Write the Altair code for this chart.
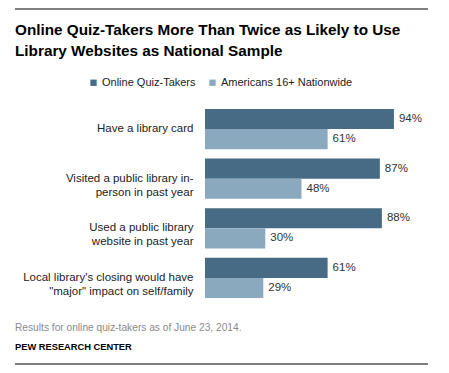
import altair as alt
import pandas as pd

categories = [
    "Have a library card",
    "Visited a public library in-|person in past year",
    "Used a public library|website in past year",
    "Local library's closing would have|\"major\" impact on self/family",
]
series = ["Online Quiz-Takers", "Americans 16+ Nationwide"]
quiz_takers = [94, 87, 88, 61]
nationwide = [61, 48, 30, 29]
colors = ["#476A85", "#8AA9BF"]

title_lines = ["Online Quiz-Takers More Than Twice as Likely to Use",
               "Library Websites as National Sample"]
note = "Results for online quiz-takers as of June 23, 2014."
source = "PEW RESEARCH CENTER"

rows = []
for c, a, b in zip(categories, quiz_takers, nationwide):
    rows.append({"cat": c, "series": series[0], "value": a, "label": f"{a}%"})
    rows.append({"cat": c, "series": series[1], "value": b, "label": f"{b}%"})
df = pd.DataFrame(rows)

FONT = "Liberation Sans"
W, H = 201, 189

y_enc = alt.Y("cat:N", sort=categories,
              scale=alt.Scale(paddingInner=0.19, paddingOuter=0),
              axis=alt.Axis(title=None, domain=False, ticks=False, labelPadding=12,
                            labelFontSize=11.5, labelColor="#222222", labelFont=FONT,
                            labelLimit=300, labelLineHeight=14,
                            labelExpr="split(datum.label, '|')"))
yoff = alt.YOffset("series:N", sort=series, scale=alt.Scale(paddingInner=0, paddingOuter=0))

bars = alt.Chart(df).mark_bar().encode(
    x=alt.X("value:Q", scale=alt.Scale(domain=[0, 100]), axis=None),
    y=y_enc,
    yOffset=yoff,
    color=alt.Color("series:N", sort=series,
                    scale=alt.Scale(domain=series, range=colors),
                    legend=alt.Legend(title=None, orient="none", direction="horizontal",
                                      legendX=-117, legendY=-32, symbolType="square",
                                      symbolSize=40, symbolStrokeWidth=0,
                                      labelFont=FONT, labelFontSize=11,
                                      labelColor="#222222", columnPadding=11,
                                      symbolOffset=0, labelOffset=3)),
)

labels = alt.Chart(df).mark_text(align="left", baseline="middle", dx=5,
                                 font=FONT, fontSize=11.5, color="#333333").encode(
    x="value:Q", y=alt.Y("cat:N", sort=categories), yOffset=alt.YOffset("series:N", sort=series),
    text="label:N",
)

one = pd.DataFrame({"k": [0]})

def txt(s, x, y, size, color, weight="normal", font=FONT):
    return alt.Chart(one).mark_text(align="left", baseline="middle", font=font,
                                    fontSize=size, color=color, fontWeight=weight).encode(
        x=alt.value(x), y=alt.value(y), text=alt.value(s))

def rule(y):
    return alt.Chart(one).mark_rule(color="#000000", strokeWidth=1).encode(
        x=alt.value(-190), x2=alt.value(223), y=alt.value(y))

chart = alt.layer(
    rule(-100),
    txt(title_lines[0], -190, -79, 15.3, "#000000", "bold"),
    txt(title_lines[1], -190, -58, 15.3, "#000000", "bold"),
    bars, labels,
    txt(note, -190, 219, 10.2, "#8a8a8a"),
    txt(source, -190, 238, 9.3, "#000000", "bold"),
    rule(255),
).properties(
    width=W, height=H,
    autosize=alt.AutoSizeParams(type="none"),
    padding={"left": 197, "top": 101, "right": 30, "bottom": 67},
).configure_view(stroke=None)

chart.save("out.html", embed_options={"renderer": "svg", "actions": False})
